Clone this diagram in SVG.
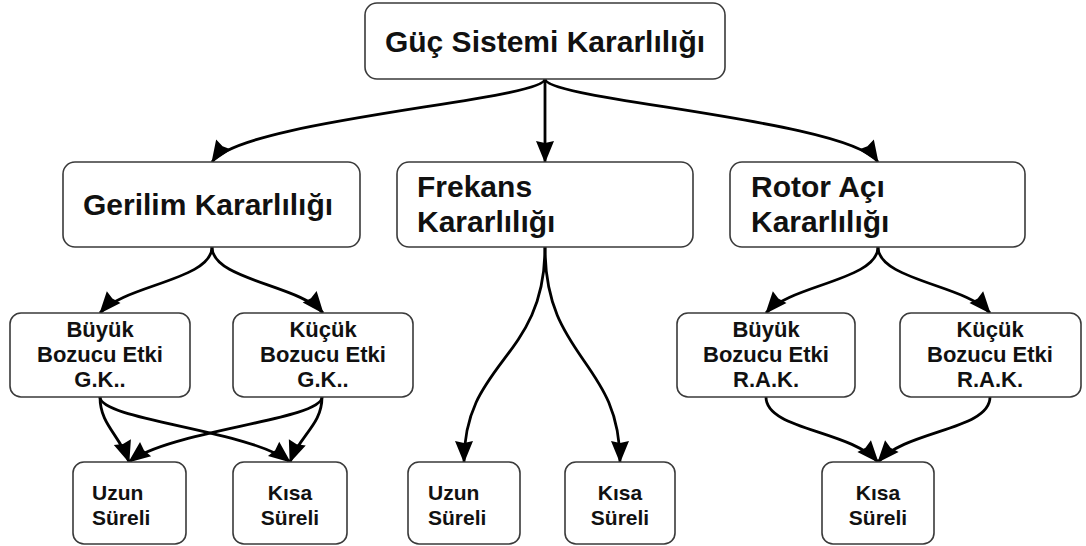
<svg xmlns="http://www.w3.org/2000/svg" width="1086" height="546" viewBox="0 0 1086 546">
<style>
.box{fill:#fff;stroke:#3a3a3a;stroke-width:1.6}
.t{font-family:"Liberation Sans",Arial,sans-serif;font-weight:bold;fill:#111}
.big{font-size:30px}
.sm{font-size:22px}
.bt{font-size:21px}
.c{text-anchor:middle}
.e{fill:none;stroke:#000;stroke-width:2.8;marker-end:url(#arr)}
</style>
<defs>
<marker id="arr" markerUnits="userSpaceOnUse" markerWidth="22" markerHeight="18" viewBox="0 0 22 18" refX="21" refY="9" orient="auto" overflow="visible">
<path d="M0,0 L22,9 L0,18 L2,9 Z" fill="#000"/>
</marker>
</defs>
<rect width="1086" height="546" fill="#fff"/>
<g id="edges">
<path class="e" d="M545,79 C545,100 240,120 212,162"/>
<path class="e" d="M545,79 L545,162"/>
<path class="e" d="M545,79 C545,100 850,120 878,162"/>
<path class="e" d="M212,247 C212,280 124,285 100,313"/>
<path class="e" d="M212,247 C212,280 300,285 323,313"/>
<path class="e" d="M878,247 C878,280 790,285 766,313"/>
<path class="e" d="M878,247 C878,280 966,285 990,313"/>
<path class="e" d="M100,397 C100,425 120,435 129,462"/>
<path class="e" d="M100,397 C100,420 250,430 290,462"/>
<path class="e" d="M322,397 C322,420 170,430 129,462"/>
<path class="e" d="M322,397 C322,425 300,435 290,462"/>
<path class="e" d="M545,247 C545,360 464,360 464,462"/>
<path class="e" d="M545,247 C545,360 620,360 620,462"/>
<path class="e" d="M766,397 C766,430 850,430 878,462"/>
<path class="e" d="M990,397 C990,430 906,430 878,462"/>
</g>
<g id="n-guc"><rect class="box" x="365" y="3" width="360" height="76" rx="12"/><text class="t big c" x="545" y="52">Güç Sistemi Kararlılığı</text></g>
<g id="n-gerilim"><rect class="box" x="63" y="162" width="297" height="85" rx="12"/><text class="t big c" x="208" y="215">Gerilim Kararlılığı</text></g>
<g id="n-frekans"><rect class="box" x="397" y="162" width="296" height="85" rx="12"/><text class="t big" x="417" y="197">Frekans</text><text class="t big" x="417" y="232">Kararlılığı</text></g>
<g id="n-rotor"><rect class="box" x="730" y="162" width="295" height="85" rx="12"/><text class="t big" x="751" y="197">Rotor Açı</text><text class="t big" x="751" y="232">Kararlılığı</text></g>
<g id="n-gbuyuk"><rect class="box" x="10" y="313" width="180" height="84" rx="11"/><text class="t sm c" x="100" y="337">Büyük</text><text class="t sm c" x="100" y="362">Bozucu Etki</text><text class="t sm c" x="100" y="387">G.K..</text></g>
<g id="n-gkucuk"><rect class="box" x="233" y="313" width="180" height="84" rx="11"/><text class="t sm c" x="323" y="337">Küçük</text><text class="t sm c" x="323" y="362">Bozucu Etki</text><text class="t sm c" x="323" y="387">G.K..</text></g>
<g id="n-rbuyuk"><rect class="box" x="677" y="313" width="178" height="84" rx="11"/><text class="t sm c" x="766" y="337">Büyük</text><text class="t sm c" x="766" y="362">Bozucu Etki</text><text class="t sm c" x="766" y="387">R.A.K.</text></g>
<g id="n-rkucuk"><rect class="box" x="900" y="313" width="181" height="84" rx="11"/><text class="t sm c" x="990" y="337">Küçük</text><text class="t sm c" x="990" y="362">Bozucu Etki</text><text class="t sm c" x="990" y="387">R.A.K.</text></g>
<g id="n-guzun"><rect class="box" x="73" y="462" width="113" height="82" rx="11"/><text class="t bt" x="92" y="500">Uzun</text><text class="t bt" x="92" y="525">Süreli</text></g>
<g id="n-gkisa"><rect class="box" x="233" y="462" width="114" height="82" rx="11"/><text class="t bt c" x="290" y="500">Kısa</text><text class="t bt c" x="290" y="525">Süreli</text></g>
<g id="n-fuzun"><rect class="box" x="408" y="462" width="112" height="82" rx="11"/><text class="t bt" x="428" y="500">Uzun</text><text class="t bt" x="428" y="525">Süreli</text></g>
<g id="n-fkisa"><rect class="box" x="565" y="462" width="110" height="82" rx="11"/><text class="t bt c" x="620" y="500">Kısa</text><text class="t bt c" x="620" y="525">Süreli</text></g>
<g id="n-rkisa"><rect class="box" x="822" y="462" width="112" height="82" rx="11"/><text class="t bt c" x="878" y="500">Kısa</text><text class="t bt c" x="878" y="525">Süreli</text></g>
</svg>
